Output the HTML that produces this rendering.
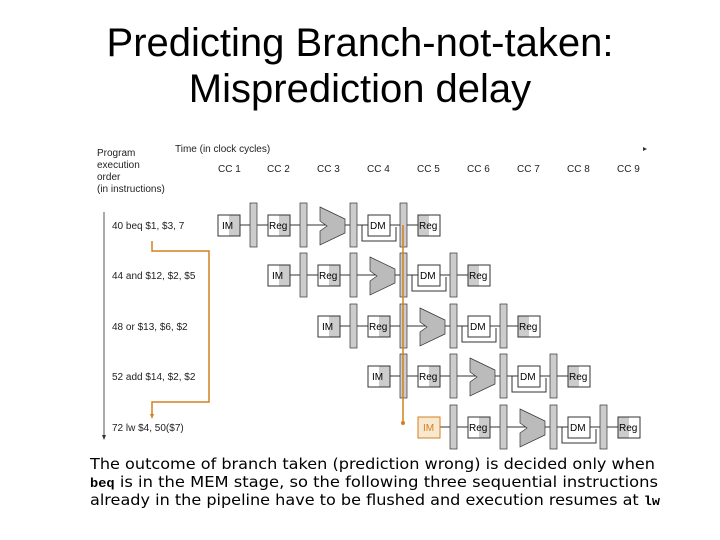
<!DOCTYPE html>
<html><head><meta charset="utf-8"><style>
body{margin:0;background:#fff;}
.t{position:absolute;left:0;width:720px;text-align:center;font-family:"Liberation Sans",sans-serif;font-size:40px;line-height:46px;color:#000;}
</style></head><body>
<div style="position:relative;width:720px;height:540px;overflow:hidden">
<div class="t" style="top:20px">Predicting Branch-not-taken:<br>Misprediction delay</div>
<svg width="720" height="540" style="position:absolute;left:0;top:0" font-family="Liberation Sans, sans-serif">
<defs>
<g id="p">
 <line x1="240" y1="0" x2="418" y2="0" stroke="#333" stroke-width="1"/>
 <rect x="218" y="-10" width="22" height="21" fill="#fff" stroke="#333"/>
 <rect x="229" y="-10" width="11" height="21" fill="#ccc"/>
 <rect x="218" y="-10" width="22" height="21" fill="none" stroke="#333"/>
 <text x="222" y="4" font-size="10">IM</text>
 <rect x="250" y="-22" width="7" height="44" fill="#ccc" stroke="#333" stroke-width="0.7"/>
 <rect x="268" y="-10" width="22" height="21" fill="#fff" stroke="#333"/>
 <rect x="279" y="-10" width="11" height="21" fill="#ccc"/>
 <rect x="268" y="-10" width="22" height="21" fill="none" stroke="#333"/>
 <text x="269" y="4" font-size="10">Reg</text>
 <rect x="300" y="-22" width="7" height="44" fill="#ccc" stroke="#333" stroke-width="0.7"/>
 <polygon points="320,-18 345,-6 345,8 320,20 320,6 327,1 320,-4" fill="#bbb" stroke="#333" stroke-width="0.7"/>
 <rect x="350" y="-22" width="7" height="44" fill="#ccc" stroke="#333" stroke-width="0.7"/>
 <rect x="368" y="-10" width="22" height="21" fill="#fff" stroke="#333"/>
 <text x="370" y="4" font-size="10">DM</text>
 <polyline points="362,0 362,16 396,16 396,2" fill="none" stroke="#333"/>
 <rect x="400" y="-22" width="7" height="44" fill="#ccc" stroke="#333" stroke-width="0.7"/>
 <rect x="418" y="-10" width="22" height="21" fill="#fff" stroke="#333"/>
 <rect x="418" y="-10" width="11" height="21" fill="#ccc"/>
 <rect x="418" y="-10" width="22" height="21" fill="none" stroke="#333"/>
 <text x="419" y="4" font-size="10">Reg</text>
</g>
</defs>
<g font-size="10" fill="#222">
<text x="97" y="156">Program</text><text x="97" y="168">execution</text><text x="97" y="180">order</text><text x="97" y="192">(in instructions)</text>
<text x="175" y="152">Time (in clock cycles)</text>
<text x="218" y="172">CC 1</text><text x="267" y="172">CC 2</text><text x="317" y="172">CC 3</text><text x="367" y="172">CC 4</text><text x="417" y="172">CC 5</text><text x="467" y="172">CC 6</text><text x="517" y="172">CC 7</text><text x="567" y="172">CC 8</text><text x="617" y="172">CC 9</text>
<text x="112" y="229">40 beq $1, $3, 7</text>
<text x="112" y="279">44 and $12, $2, $5</text>
<text x="112" y="330">48 or $13, $6, $2</text>
<text x="112" y="380">52 add $14, $2, $2</text>
<text x="112" y="431">72 lw $4, 50($7)</text>
</g>
<polygon points="643,147 647,149 643,151" fill="#333"/>
<line x1="104" y1="212" x2="104" y2="437" stroke="#555"/>
<polygon points="102,435 104,440 106,435" fill="#333"/>
<use href="#p" transform="translate(0,225)"/>
<use href="#p" transform="translate(50,275)"/>
<use href="#p" transform="translate(100,326)"/>
<use href="#p" transform="translate(150,376)"/>
<use href="#p" transform="translate(200,427)"/>
<polyline points="152,241 152,251 209,251 209,402 152,402 152,416" fill="none" stroke="#d08020" stroke-width="1.5"/>
<polygon points="150,414 152,419 154,414" fill="#d08020"/>
<line x1="403" y1="225" x2="403" y2="423" stroke="#d08020" stroke-width="1.5"/>
<circle cx="403" cy="423" r="2" fill="#d08020"/>
<rect x="418" y="417" width="22" height="21" fill="#f8e8d0" stroke="#d08020"/>
<text x="423" y="431" font-size="10" fill="#d08020">IM</text>
<g font-size="15.5" fill="#000" font-family="DejaVu Sans, sans-serif">
<text x="90" y="469" textLength="565" lengthAdjust="spacingAndGlyphs">The outcome of branch taken (prediction wrong) is decided only when</text>
<text x="90" y="487" textLength="568" lengthAdjust="spacingAndGlyphs"><tspan font-family="Liberation Mono, monospace" font-weight="bold" font-size="13">beq</tspan> is in the MEM stage, so the following three sequential instructions</text>
<text x="90" y="505" textLength="570" lengthAdjust="spacingAndGlyphs">already in the pipeline have to be flushed and execution resumes at <tspan font-family="Liberation Mono, monospace" font-weight="bold" font-size="13">lw</tspan></text>
</g>
</svg>
</div>
</body></html>
